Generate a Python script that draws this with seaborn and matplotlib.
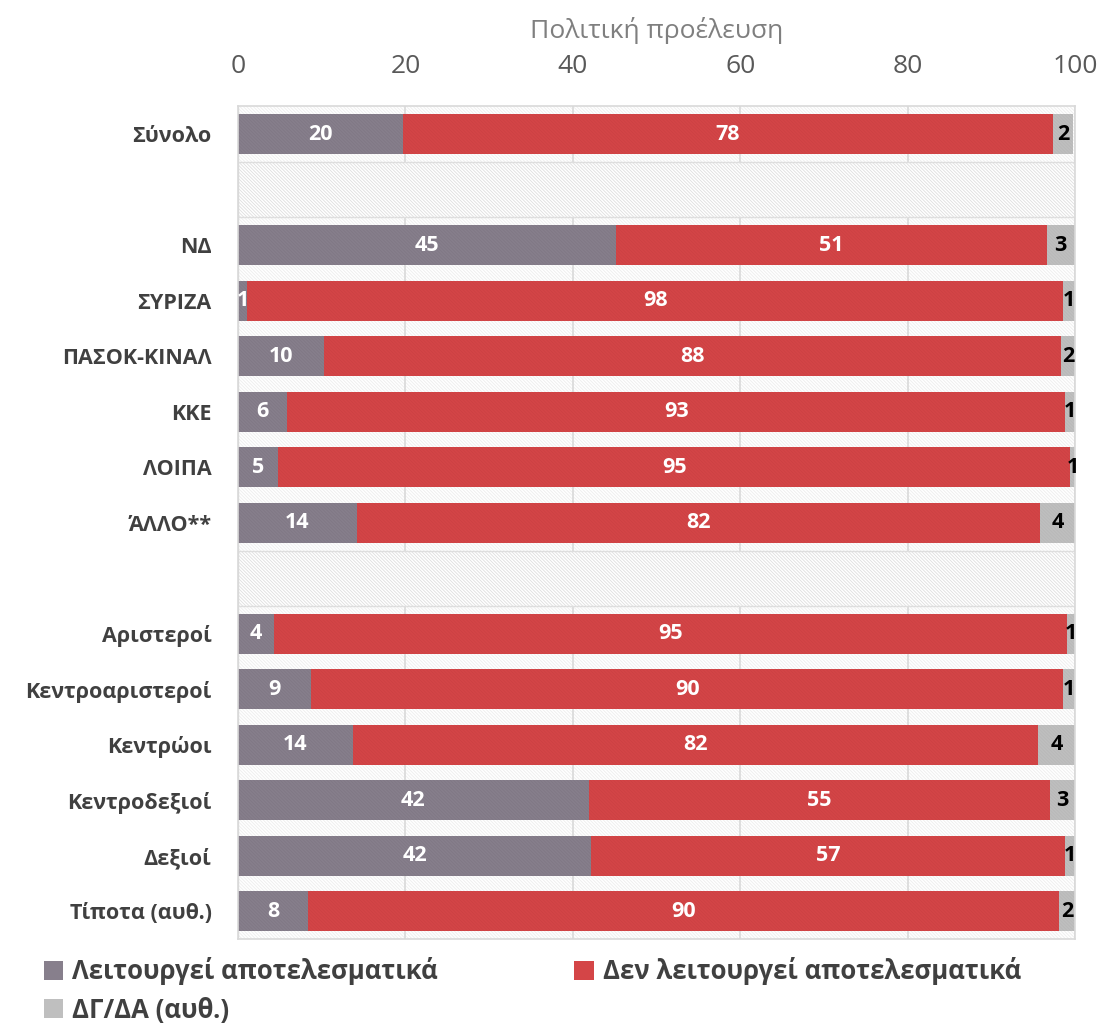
import numpy as np
import pandas as pd
import seaborn as sns
import matplotlib.pyplot as plt
from matplotlib.patches import Patch

# Πολιτική προέλευση - δεδομένα (% ανά κατηγορία), κενές γραμμές = διαχωριστικά
categories = ['Σύνολο', ' ', 'ΝΔ', 'ΣΥΡΙΖΑ', 'ΠΑΣΟΚ-ΚΙΝΑΛ', 'ΚΚΕ', 'ΛΟΙΠΑ', 'ΆΛΛΟ**', '  ',
              'Αριστεροί', 'Κεντροαριστεροί', 'Κεντρώοι', 'Κεντροδεξιοί', 'Δεξιοί', 'Τίποτα (αυθ.)']
works = [19.7, np.nan, 45.2, 1.1, 10.3, 5.9, 4.8, 14.2, np.nan, 4.3, 8.7, 13.7, 41.9, 42.2, 8.4]
not_works = [77.7, np.nan, 51.4, 97.5, 88.0, 92.9, 94.6, 81.6, np.nan, 94.8, 89.9, 81.9, 55.1, 56.6, 89.7]
dk_na = [2.4, np.nan, 3.4, 1.4, 1.7, 1.2, 0.6, 4.2, np.nan, 0.9, 1.4, 4.4, 3.0, 1.2, 1.9]
series_names = ['Λειτουργεί αποτελεσματικά', 'Δεν λειτουργεί αποτελεσματικά', 'ΔΓ/ΔΑ (αυθ.)']

c_works = '#877F8C'
c_not = '#D44547'
c_dk = '#BFBFBF'

sns.set_theme(style='white')
plt.rcParams['font.family'] = ['Open Sans', 'DejaVu Sans']
plt.rcParams['hatch.linewidth'] = 0.6

df = pd.DataFrame({'cat': categories, 'works': works, 'not_works': not_works, 'dk': dk_na})
df['s1'] = df['works']
df['s2'] = df['works'] + df['not_works']
df['s3'] = df['s2'] + df['dk']
df['gap'] = np.where(df['works'].isna(), 100.0, 0.0)

fig = plt.figure(figsize=(11.02, 10.23), dpi=100)
ax = fig.add_axes([0.216, 0.082, 0.7595, 0.814])

# fond hachuré de la zone de tracé
ax.patch.set_facecolor('white')
ax.patch.set_hatch('\\' * 10)
ax.patch.set_edgecolor('#EDEDED')

hatch = '\\' * 10
sns.barplot(data=df, x='gap', y='cat', order=categories, orient='h', width=1.0,
            color='white', hatch=hatch, edgecolor='#DEDEDE', linewidth=1.0, errorbar=None, ax=ax)
sns.barplot(data=df, x='s3', y='cat', order=categories, orient='h', width=0.72,
            color=c_dk, hatch=hatch, edgecolor='#B8B8B8', linewidth=0, saturation=1, errorbar=None, ax=ax)
sns.barplot(data=df, x='s2', y='cat', order=categories, orient='h', width=0.72,
            color=c_not, hatch=hatch, edgecolor='#CB4143', linewidth=0, saturation=1, errorbar=None, ax=ax)
sns.barplot(data=df, x='s1', y='cat', order=categories, orient='h', width=0.72,
            color=c_works, hatch=hatch, edgecolor='#7F7784', linewidth=0, saturation=1, errorbar=None, ax=ax)

# étiquettes de valeurs
for i, row in df.iterrows():
    if np.isnan(row['works']):
        continue
    ax.text(row['works'] / 2, i, f"{row['works']:.0f}", ha='center', va='center',
            color='white', fontsize=15.5, fontweight='bold')
    ax.text(row['works'] + row['not_works'] / 2, i, f"{row['not_works']:.0f}", ha='center', va='center',
            color='white', fontsize=15.5, fontweight='bold')
    ax.text(row['s2'] + row['dk'] / 2, i, f"{row['dk']:.0f}", ha='center', va='center',
            color='black', fontsize=15.5, fontweight='bold')

ax.set_xlim(0, 100)
ax.set_ylim(len(categories) - 0.5, -0.5)
ax.set_xticks([0, 20, 40, 60, 80, 100])
ax.xaxis.tick_top()
ax.xaxis.set_label_position('top')
ax.tick_params(axis='x', labelsize=19, colors='#595959', length=0, pad=19.5)
ax.tick_params(axis='y', labelsize=15.5, length=0, pad=19)
for lab in ax.get_yticklabels():
    lab.set_fontweight('bold')
    lab.set_color('#404040')
ax.set_xlabel('Πολιτική προέλευση', fontsize=19, color='#7F7F7F', labelpad=11.5)
ax.set_ylabel('')
ax.grid(axis='x', color='#D9D9D9', linewidth=1.2)
ax.set_axisbelow(True)
for sp in ax.spines.values():
    sp.set_color('#D9D9D9')
    sp.set_linewidth(1.2)

handles = [Patch(facecolor=c, edgecolor='none') for c in (c_works, c_dk, c_not)]
labels = [series_names[0], series_names[2], series_names[1]]
fig.legend(handles, labels, loc='upper left', bbox_to_anchor=(0.019, 0.087), ncol=2,
           frameon=False, handlelength=0.75, handleheight=0.75, handletextpad=0.35,
           columnspacing=5.3, labelspacing=0.45,
           prop={'size': 18.5, 'weight': 'bold'}, labelcolor='#404040')

fig.savefig('out.png', dpi=100)
